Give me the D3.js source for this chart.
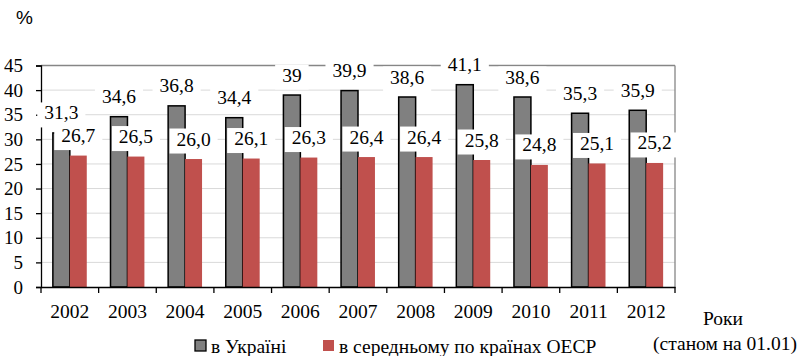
<!DOCTYPE html>
<html><head><meta charset="utf-8">
<script src="https://cdn.jsdelivr.net/npm/d3@7"></script>
<style>html,body{margin:0;padding:0;background:#fff;}svg{display:block;}
.sf{font-family:"Liberation Serif","Times New Roman",serif;}
</style>
</head><body>
<svg id="chart" width="800" height="356"></svg>
<script>
const years = ["2002","2003","2004","2005","2006","2007","2008","2009","2010","2011","2012"];
const ukraine = [31.3, 34.6, 36.8, 34.4, 39, 39.9, 38.6, 41.1, 38.6, 35.3, 35.9];
const oecd = [26.7, 26.5, 26.0, 26.1, 26.3, 26.4, 26.4, 25.8, 24.8, 25.1, 25.2];
const yTicks = [0,5,10,15,20,25,30,35,40,45];
const seriesNames = ["в Україні", "в середньому по країнах ОЕСР"];
const seriesKeys = ["ua","oecd"];
const colors = {ua:"#808080", oecd:"#c0504d"};

(function(){
const svg = d3.select("#chart");
const pLeft = 41, pRight = 675, pTop = 65.5, pBottom = 287;
const x0 = d3.scaleBand().domain(years).range([pLeft, pRight]).paddingInner(0).paddingOuter(0);
const x1 = d3.scaleBand().domain(seriesKeys).range([0, x0.bandwidth()]).paddingInner(0).paddingOuter(0.7);
const y = d3.scaleLinear().domain([0,45]).range([pBottom, pTop]);

// gridlines
svg.append("g").selectAll("line").data(yTicks.filter(t=>t>0 && t<45)).join("line")
  .attr("x1", pLeft).attr("x2", pRight).attr("y1", d=>y(d)).attr("y2", d=>y(d))
  .attr("stroke", "#d9d9d9").attr("stroke-width", 1);
// frame top & right
svg.append("line").attr("x1", pLeft).attr("x2", pRight).attr("y1", y(45)).attr("y2", y(45)).attr("stroke", "#868686").attr("stroke-width", 1.3);
svg.append("line").attr("x1", pRight).attr("x2", pRight).attr("y1", y(45)).attr("y2", y(0)).attr("stroke", "#868686").attr("stroke-width", 1.3);

// y axis
const yAxis = d3.axisLeft(y).tickValues(yTicks).tickSize(5).tickPadding(13).tickFormat(d=>d);
const gy = svg.append("g").attr("transform", `translate(${pLeft},0)`).call(yAxis)
  .attr("font-family", null).attr("font-size", null);
gy.select(".domain").attr("stroke", "#000").attr("stroke-width", 1.3);
gy.selectAll(".tick line").attr("stroke", "#000").attr("stroke-width", 1.3);
gy.selectAll(".tick text").attr("class", "sf").style("font-size", "19px").attr("fill", "#000");

// bars
const groups = svg.append("g").selectAll("g").data(years).join("g")
  .attr("transform", d=>`translate(${x0(d)},0)`);
groups.append("rect")
  .attr("x", x1("ua")).attr("width", x1.bandwidth())
  .attr("y", (d,i)=>y(ukraine[i])).attr("height", (d,i)=>y(0)-y(ukraine[i]))
  .attr("fill", colors.ua).attr("stroke", "#000").attr("stroke-width", 1.5);
groups.append("rect")
  .attr("x", x1("oecd")).attr("width", x1.bandwidth())
  .attr("y", (d,i)=>y(oecd[i])).attr("height", (d,i)=>y(0)-y(oecd[i]))
  .attr("fill", colors.oecd);

// x axis
const xAxis = d3.axisBottom(x0).tickSize(0).tickPadding(17);
const gx = svg.append("g").attr("transform", `translate(0,${pBottom})`).call(xAxis)
  .attr("font-family", null).attr("font-size", null);
gx.select(".domain").attr("stroke", "#000").attr("stroke-width", 1.3);
gx.selectAll(".tick text").attr("class", "sf").style("font-size", "19.5px").attr("fill", "#000").attr("dy", "0.71em");
// boundary ticks
const bounds = years.map(d=>x0(d)).concat([pRight]);
svg.append("g").selectAll("line").data(bounds).join("line")
  .attr("x1", d=>d).attr("x2", d=>d).attr("y1", pBottom).attr("y2", pBottom+6)
  .attr("stroke", "#000").attr("stroke-width", 1.3);

// data labels
function addLabels(key, vals, fmt) {
  const g = svg.append("g");
  vals.forEach((v,i)=>{
    const cx = x0(years[i]) + x1(key) + x1.bandwidth()/2;
    const base = y(v) - 13.5;
    const lg = g.append("g");
    const rect = lg.append("rect").attr("fill", "#fff");
    const t = lg.append("text").attr("class", "sf").attr("x", cx).attr("y", base).attr("text-anchor", "middle")
      .style("font-size", "19.5px").attr("fill", "#000").text(fmt(v));
    const w = t.node().getComputedTextLength();
    rect.attr("x", cx - w/2 - 7).attr("width", w + 14).attr("y", base - 17).attr("height", 25);
  });
}
addLabels("ua", ukraine, v=>String(v).replace(".", ","));
addLabels("oecd", oecd, v=>v.toFixed(1).replace(".", ","));

// % label
svg.append("text").attr("x", 16).attr("y", 24).style("font-family", "'Liberation Sans',Arial,sans-serif")
  .style("font-size", "19px").attr("fill", "#000").text("%");

// axis title
svg.append("text").attr("class", "sf").attr("x", 703).attr("y", 325).style("font-size", "19.5px").attr("fill", "#000").text("Роки");
svg.append("text").attr("class", "sf").attr("x", 797).attr("y", 350).attr("text-anchor", "end").style("font-size", "19.5px").attr("fill", "#000").text("(станом на 01.01)");

// legend
const legendX = [195, 323];
seriesKeys.forEach((k,i)=>{
  svg.append("rect").attr("x", legendX[i]).attr("y", 340).attr("width", 11).attr("height", 11)
    .attr("fill", colors[k]).attr("stroke", k==="ua" ? "#000" : "none").attr("stroke-width", 1.3);
  svg.append("text").attr("class", "sf").attr("x", legendX[i] + 16).attr("y", 353)
    .style("font-size", "19.5px").attr("fill", "#000").text(seriesNames[i]);
});
})();
</script>
</body></html>
